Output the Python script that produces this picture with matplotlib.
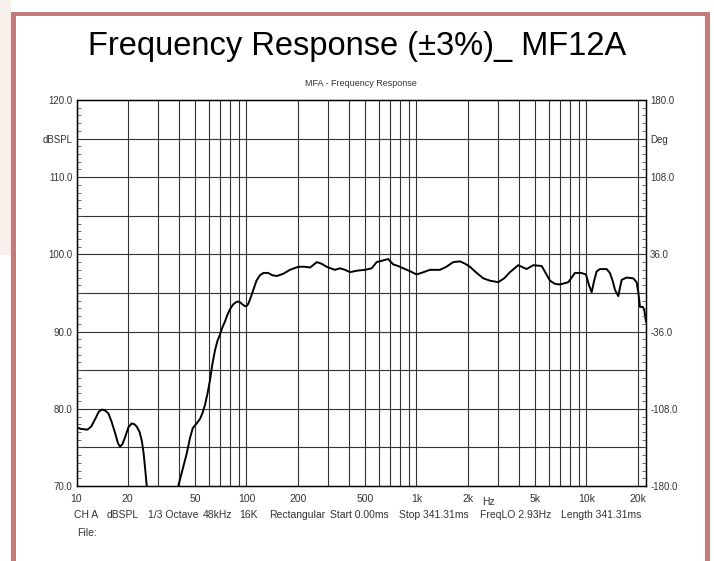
import matplotlib.pyplot as plt
from matplotlib.patches import Rectangle
from matplotlib.ticker import FixedLocator, LogLocator, NullFormatter, MultipleLocator
import numpy as np

plt.rcParams["font.family"] = ["Liberation Sans", "DejaVu Sans"]

# frequency response (Hz, dB SPL)
freq = [10.0, 10.6, 11.6, 12.2, 12.9, 13.5, 14.1, 14.7, 15.4, 16.1, 16.9, 17.5, 18.0, 18.6, 19.3,
        20.2, 21.1, 21.9, 22.6, 23.5, 24.2, 24.8, 25.3, 25.9, 26.3,
        39.2, 39.7, 42.0, 44.5, 46.5, 48.3, 50.9, 53.3, 55.0, 57.0, 59.0, 61.0, 63.0, 65.3, 67.5,
        69.8, 72.0, 74.7, 77.3, 80.0, 83.3, 86.7, 89.0, 91.6, 95.0, 98.0, 100.0, 102.5, 105.8,
        109.6, 114.5, 120, 126, 134, 142, 151, 165, 180, 202, 220, 237, 259, 276, 296, 331, 355,
        380, 406, 450, 498, 545, 583, 630, 682, 730, 780, 836, 920, 1002, 1100, 1200, 1374, 1500,
        1645, 1802, 1930, 2063, 2260, 2472, 2705, 3028, 3280, 3548, 3970, 4446, 4863, 5452, 5750,
        6100, 6500, 6982, 7820, 8556, 9300, 9930, 10350, 10730, 11100, 11480, 12000, 13140, 13740,
        14250, 14720, 15390, 15750, 16110, 17230, 18840, 19730, 20180, 20650, 21420, 21880, 22390]
spl = [77.6, 77.4, 77.3, 77.7, 78.7, 79.6, 79.9, 79.8, 79.4, 78.3, 76.8, 75.6, 75.1, 75.4, 76.3,
       77.6, 78.1, 78.0, 77.7, 77.0, 75.9, 74.3, 72.4, 70.0, 68.0,
       68.0, 70.0, 72.1, 74.2, 76.2, 77.5, 78.1, 78.7, 79.4, 80.5, 82.0, 83.7, 85.8, 87.6, 88.8,
       89.6, 90.5, 91.3, 92.2, 92.9, 93.5, 93.8, 93.9, 93.8, 93.5, 93.3, 93.3, 93.6, 94.4,
       95.4, 96.6, 97.3, 97.6, 97.6, 97.3, 97.2, 97.5, 98.0, 98.4, 98.4, 98.3, 99.0, 98.8, 98.4,
       98.0, 98.2, 98.0, 97.7, 97.9, 98.0, 98.2, 99.0, 99.2, 99.4, 98.7, 98.5, 98.2, 97.8, 97.4,
       97.7, 98.0, 98.0, 98.4, 99.0, 99.1, 98.8, 98.4, 97.6, 96.9, 96.6, 96.4, 96.9, 97.7, 98.6,
       98.1, 98.6, 98.5, 97.6, 96.6, 96.2, 96.1, 96.4, 97.6, 97.6, 97.4, 96.0, 95.1, 96.6, 97.8,
       98.1, 98.1, 97.6, 96.6, 95.4, 94.6, 95.7, 96.7, 97.0, 96.9, 96.4, 95.1, 93.2, 93.2, 92.8,
       91.3]

xtick_vals = [10, 20, 50, 100, 200, 500, 1000, 2000, 5000, 10000, 20000]
xtick_labels = ["10", "20", "50", "100", "200", "500", "1k", "2k", "5k", "10k", "20k"]
ytick_vals = [70, 80, 90, 100, 110, 115, 120]
ytick_labels = ["70.0", "80.0", "90.0", "100.0", "110.0", "dBSPL", "120.0"]
deg_vals = [-180, -108, -36, 36, 108, 144, 180]
deg_labels = ["-180.0", "-108.0", "-36.0", "36.0", "108.0", "Deg", "180.0"]

fig = plt.figure(figsize=(7.14, 5.61), dpi=100)
fig.patch.set_facecolor("white")

# page decoration: peach strip and red frame
border = "#c27b7b"
fig.add_artist(Rectangle((0, 1 - 255 / 561), 11 / 714, 255 / 561, transform=fig.transFigure,
                         facecolor="#f8f0ea", edgecolor="none", zorder=0))
fig.add_artist(Rectangle((11 / 714, 0), 5 / 714, 1 - 12 / 561, transform=fig.transFigure,
                         facecolor=border, edgecolor="none"))
fig.add_artist(Rectangle((11 / 714, 1 - 16 / 561), 699 / 714, 4 / 561, transform=fig.transFigure,
                         facecolor=border, edgecolor="none"))
fig.add_artist(Rectangle((705 / 714, 0), 5 / 714, 1 - 12 / 561, transform=fig.transFigure,
                         facecolor=border, edgecolor="none"))

ax = fig.add_axes([76.5 / 714, 1 - 486 / 561, (646 - 76.5) / 714, 386 / 561])
ax.plot(freq, spl, color="black", lw=1.4, zorder=3)
ax.set_xscale("log")
ax.set_xlim(10, 22400)
ax.set_ylim(70, 120)

ax.xaxis.set_major_locator(FixedLocator(xtick_vals))
ax.set_xticklabels(xtick_labels)
ax.xaxis.set_minor_locator(LogLocator(base=10, subs=np.arange(1, 10)))
ax.xaxis.set_minor_formatter(NullFormatter())
ax.grid(True, which="both", axis="x", color="#333333", lw=0.8)
ax.yaxis.set_major_locator(FixedLocator(ytick_vals))
ax.set_yticklabels(ytick_labels)
ax.yaxis.set_minor_locator(MultipleLocator(1))
for yv in np.arange(75, 120, 5):
    ax.axhline(yv, color="#333333", lw=0.8, zorder=1)
ax.tick_params(axis="x", which="both", length=0, pad=6, labelsize=7.5, labelcolor="#333333")
ax.tick_params(axis="y", which="major", length=0, pad=3, labelsize=7, labelcolor="#333333")
ax.tick_params(axis="y", which="minor", direction="in", length=3, width=0.6, color="#555555")
for s in ax.spines.values():
    s.set_color("black")
    s.set_linewidth(1.0)

ax2 = ax.twinx()
ax2.set_ylim(-180, 180)
ax2.yaxis.set_major_locator(FixedLocator(deg_vals))
ax2.set_yticklabels(deg_labels)
ax2.yaxis.set_minor_locator(MultipleLocator(7.2))
ax2.tick_params(axis="y", which="major", length=0, pad=3, labelsize=7, labelcolor="#333333")
ax2.tick_params(axis="y", which="minor", direction="in", length=3, width=0.6, color="#555555")

ax.text(2650, -0.028, "Hz", transform=ax.get_xaxis_transform(), ha="center", va="top",
        fontsize=7.5, color="#333333")

ax.set_title("MFA - Frequency Response", fontsize=6.5, color="#333333", pad=10)
fig.text(357 / 714, 1 - 46 / 561, "Frequency Response (\u00b13%)_ MF12A", ha="center", va="center",
         fontsize=23.5, color="black")

caption = [(74, "CH A"), (106.7, "dBSPL"), (148.3, "1/3 Octave"), (202.3, "48kHz"), (239, "16K"),
           (268.7, "Rectangular"), (330, "Start 0.00ms"), (399.3, "Stop 341.31ms"),
           (480, "FreqLO 2.93Hz"), (560.7, "Length 341.31ms")]
for xp, t in caption:
    fig.text(xp / 714, 1 - 515 / 561, t, ha="left", va="center", fontsize=7.5, color="#333333")
fig.text(77 / 714, 1 - 533 / 561, "File:", ha="left", va="center", fontsize=7.5, color="#333333")

fig.savefig("out.png", dpi=100)
plt.close(fig)
